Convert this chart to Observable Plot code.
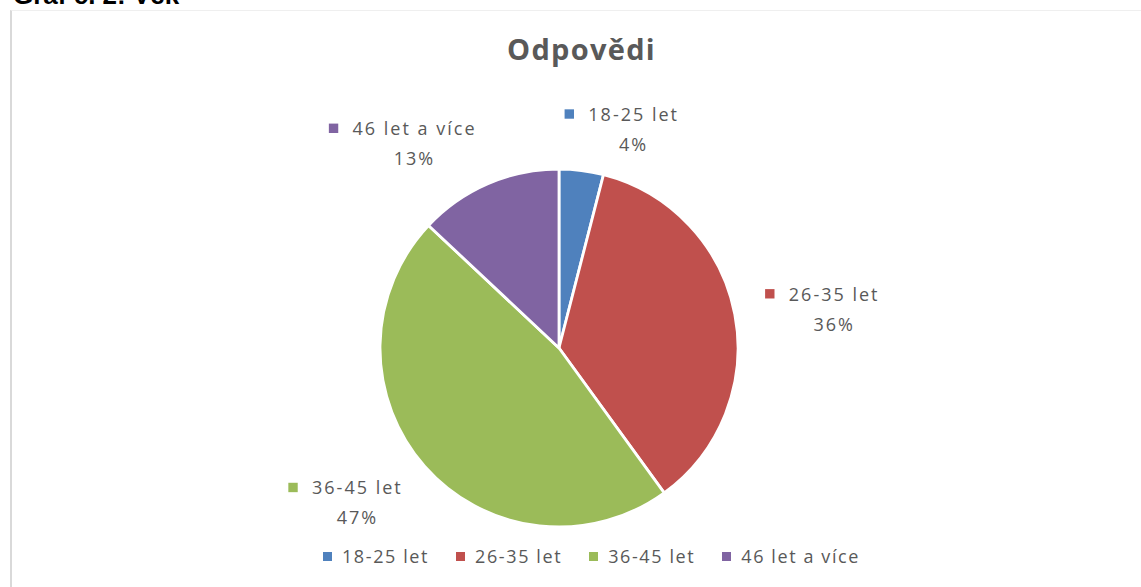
<!DOCTYPE html>
<html>
<head>
<meta charset="utf-8">
<script src="https://cdn.jsdelivr.net/npm/d3@7"></script>
<script src="https://cdn.jsdelivr.net/npm/@observablehq/plot@0.6"></script>
<style>
  body { margin: 0; background: #fff; }
  #wrap { position: relative; width: 1141px; height: 587px; overflow: hidden; background: #fff; font-family: "Open Sans", sans-serif; }
  #frame { position: absolute; left: 10px; top: 10px; width: 1300px; height: 700px; border-left: 2px solid #d9d9d9; border-top: 1px solid #efefef; }
  #heading { position: absolute; left: 13px; top: -18px; font: bold 26px "Liberation Sans", Arial, sans-serif; line-height: 26px; color: #000; white-space: nowrap; }
  #title { position: absolute; left: 0; width: 1163px; top: 34px; text-align: center; font-weight: bold; font-size: 29px; line-height: 29px; letter-spacing: 1.3px; color: #595959; }
  #chart { position: absolute; left: 0; top: 0; }
  #chart svg text { letter-spacing: 2px; }
  #legend { position: absolute; left: 0; width: 1183px; top: 546px; display: flex; justify-content: center; font-size: 18px; line-height: 20px; color: #595959; letter-spacing: 1.6px; }
  #legend .item { display: flex; align-items: center; margin: 0 13.5px; }
  #legend .sw { width: 9px; height: 9px; margin-right: 10px; }
</style>
</head>
<body>
<div id="wrap">
  <div id="frame"></div>
  <div id="heading"></div>
  <div id="title"></div>
  <div id="chart"></div>
  <div id="legend"></div>
</div>
<script>
// ---- data ----
const categories = ["18-25 let", "26-35 let", "36-45 let", "46 let a více"];
const shares = [4, 36, 47, 13];
const pctLabels = ["4%", "36%", "47%", "13%"];
const colors = ["#4F81BD", "#C0504D", "#9BBB59", "#8064A2"];
const chartTitle = "Odpovědi";
const heading = "Graf č. 2: Věk";

// ---- layout ----
const R = 179, CX = 559, CY = 348;
const GAPX = 30, GAPY = 13, LS = 2, FONT = 18;

document.getElementById("heading").textContent = heading;
document.getElementById("title").textContent = chartTitle;

const arcs = d3.pie().sort(null).value(d => d)(shares);

const ctx = document.createElement("canvas").getContext("2d");
ctx.font = `${FONT}px "Open Sans"`;
const clampX = v => Math.max(-1, Math.min(1, v / 0.2));
const weightY = v => Math.sign(v) * Math.min(1, Math.pow(Math.abs(v) / 0.6, 2));

const labelRows = [], markerRows = [];
arcs.forEach((a, i) => {
  const th = (a.startAngle + a.endAngle) / 2;
  const ux = Math.sin(th), uy = -Math.cos(th);
  const w1 = ctx.measureText(categories[i]).width + categories[i].length * LS;
  const W = 24 + w1, H = 56;
  const bx = (R + GAPX) * ux + clampX(ux) * W / 2;
  const by = (R + GAPY) * uy + weightY(uy) * H / 2;
  const left = bx - W / 2;
  const tx = left + 24 + w1 / 2;
  labelRows.push({x: tx / R, y: -(by - 15) / R, text: categories[i]});
  labelRows.push({x: tx / R, y: -(by + 15) / R, text: pctLabels[i]});
  markerRows.push({x: (left + 5) / R, y: -(by - 16) / R, cat: categories[i]});
});

function pieMark(index, scales) {
  const x = scales.x, y = scales.y;
  const cx = x(0), cy = y(0), r = x(1) - x(0);
  const g = d3.create("svg:g").attr("transform", `translate(${cx},${cy})`);
  const arcGen = d3.arc().innerRadius(0).outerRadius(r);
  g.selectAll("path").data(arcs).join("path")
    .attr("d", arcGen)
    .attr("fill", (d, i) => scales.color ? scales.color(categories[i]) : colors[i])
    .attr("stroke", "#fff")
    .attr("stroke-width", 2.8)
    .attr("stroke-linejoin", "round");
  return g.node();
}

const plot = Plot.plot({
  width: 1141,
  height: 540,
  margin: 0,
  style: {fontFamily: "Open Sans", background: "transparent"},
  x: {domain: [-1, 1], range: [CX - R, CX + R], axis: null},
  y: {domain: [-1, 1], range: [CY + R, CY - R], axis: null},
  color: {domain: categories, range: colors},
  marks: [
    pieMark,
    Plot.dot(markerRows, {x: "x", y: "y", fill: "cat", symbol: "square", r: 5.3}),
    Plot.text(labelRows, {x: "x", y: "y", text: "text", fill: "#595959", fontSize: FONT, textAnchor: "middle"})
  ]
});
document.getElementById("chart").appendChild(plot);

const legend = document.getElementById("legend");
categories.forEach((c, i) => {
  const item = document.createElement("div");
  item.className = "item";
  const sw = document.createElement("span");
  sw.className = "sw";
  sw.style.background = colors[i];
  const t = document.createElement("span");
  t.textContent = c;
  item.appendChild(sw);
  item.appendChild(t);
  legend.appendChild(item);
});
</script>
</body>
</html>
